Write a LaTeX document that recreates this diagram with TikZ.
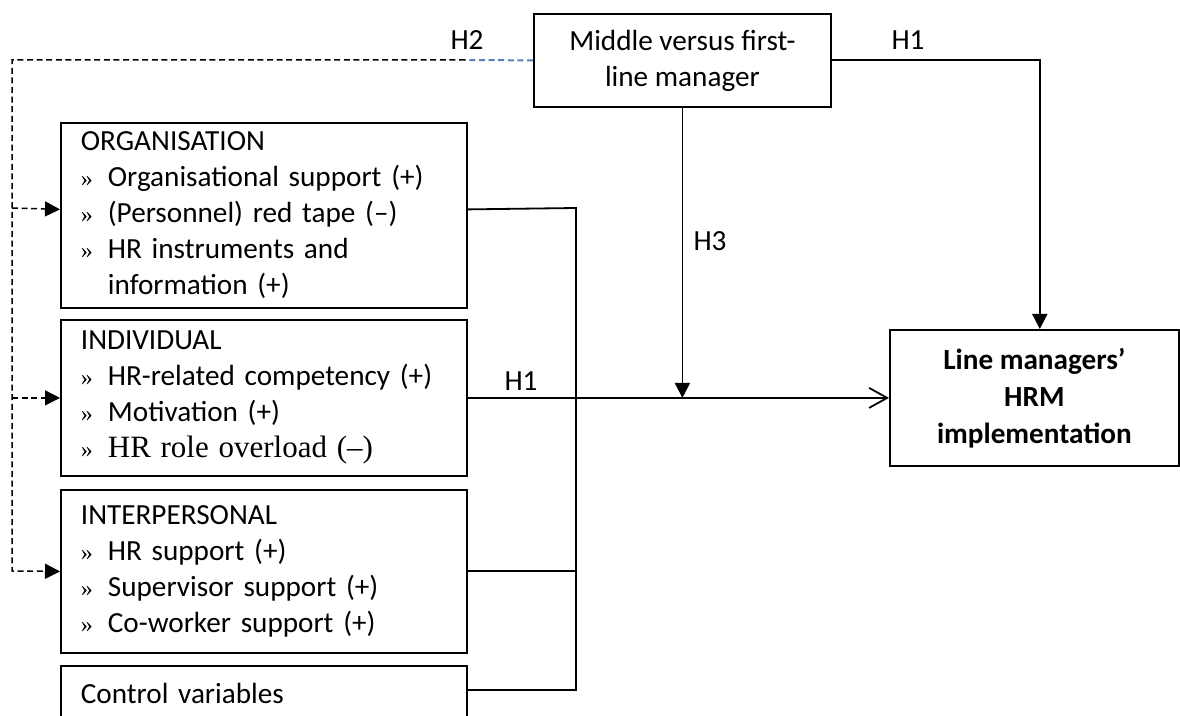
\documentclass[tikz,border=0pt]{standalone}
\usepackage{fontspec}
\setmainfont{Carlito}
\newfontfamily\serfont{Liberation Serif}
\usetikzlibrary{arrows.meta}
\definecolor{hblue}{RGB}{84,130,185}
\newcommand{\itm}{\makebox[13.5pt][l]{\serfont\fontsize{12}{12}\selectfont »}}

\begin{document}
\begin{tikzpicture}[x=0.5pt,y=-0.5pt,
		every node/.style={font=\fontsize{14.6}{18}\selectfont},
		box/.style={draw, line width=0.9pt, inner ysep=0pt},
		listbox/.style={box, anchor=north west, inner xsep=10pt, text width=183pt, align=left},
		link/.style={line width=0.9pt},
		hlink/.style={line width=0.75pt, dash pattern=on 3pt off 1.8pt},
		tip/.style={-{Triangle[length=7.5pt,width=7.5pt]}},
		lbl/.style={inner sep=0pt},
	]
	\useasboundingbox (0,0) rectangle (1180,716);

	\node[box, anchor=north west, minimum width=148.5pt, minimum height=46.5pt, align=center] (mid) at (533,13)
		{Middle versus first-\\line manager};
	\node[box, anchor=north west, minimum width=144.5pt, minimum height=68pt, align=center, font=\fontsize{14.6}{18.5}\selectfont\bfseries] (lm) at (889,329)
		{Line managers'\\HRM\\implementation};

	\node[listbox, minimum height=92.5pt] (org) at (60,122)
		{ORGANISATION\\
		\itm Organisational support (+)\\
		\itm (Personnel) red tape (–)\\
		\itm HR instruments and\\
		\hspace*{13.5pt}information (+)};
	\node[listbox, minimum height=78pt] (ind) at (60,319)
		{INDIVIDUAL\\
		\itm HR-related competency (+)\\
		\itm Motivation (+)\\
		\itm {\serfont\fontsize{15.5}{18}\selectfont HR role overload (–)}};
	\node[listbox, minimum height=81.5pt] (inter) at (60,489)
		{INTERPERSONAL\\
		\itm HR support (+)\\
		\itm Supervisor support (+)\\
		\itm Co-worker support (+)};
	\node[listbox, minimum height=28pt] (ctrl) at (60,665) {Control variables};

	% H2 (dashed)
	\coordinate (h2a) at (465,60);
	\coordinate (h2b) at (12,60);
	\coordinate (h2c) at (12,571);
	\draw[hlink, hblue, line width=1pt] (mid.west) -- (h2a);
	\draw[hlink, tip] (h2a) -- (h2b) -- (h2c) -- (inter.west);
	\draw[hlink, tip] (h2b |- 0,208) -- ([yshift=3pt]org.west);
	\draw[hlink, tip] (h2b |- ind.west) -- (ind.west);
	\node[lbl] (h2) at (467,40) {H2};

	% collecting line
	\coordinate (bustop) at (576,208);
	\coordinate (busbot) at (576,690);
	\draw[link] ([yshift=3pt]org.east) -- (bustop) -- (busbot) -- (ctrl.east |- busbot);
	\draw[link] (inter.east) -- (inter.east -| busbot);
	\draw[link, -{Straight Barb[length=9pt,width=10pt]}] (ind.east) -- (lm.west);
	\node[lbl] (h1b) at (521,381) {H1};

	% H3 and H1
	\draw[link, tip] (mid.south) -- (mid.south |- ind.east);
	\node[lbl] (h3) at (710,241) {H3};
	\draw[link, tip] (mid.east) -| ([xshift=2.7pt]lm.north);
	\node[lbl] (h1a) at (908,40) {H1};
\end{tikzpicture}
\end{document}
